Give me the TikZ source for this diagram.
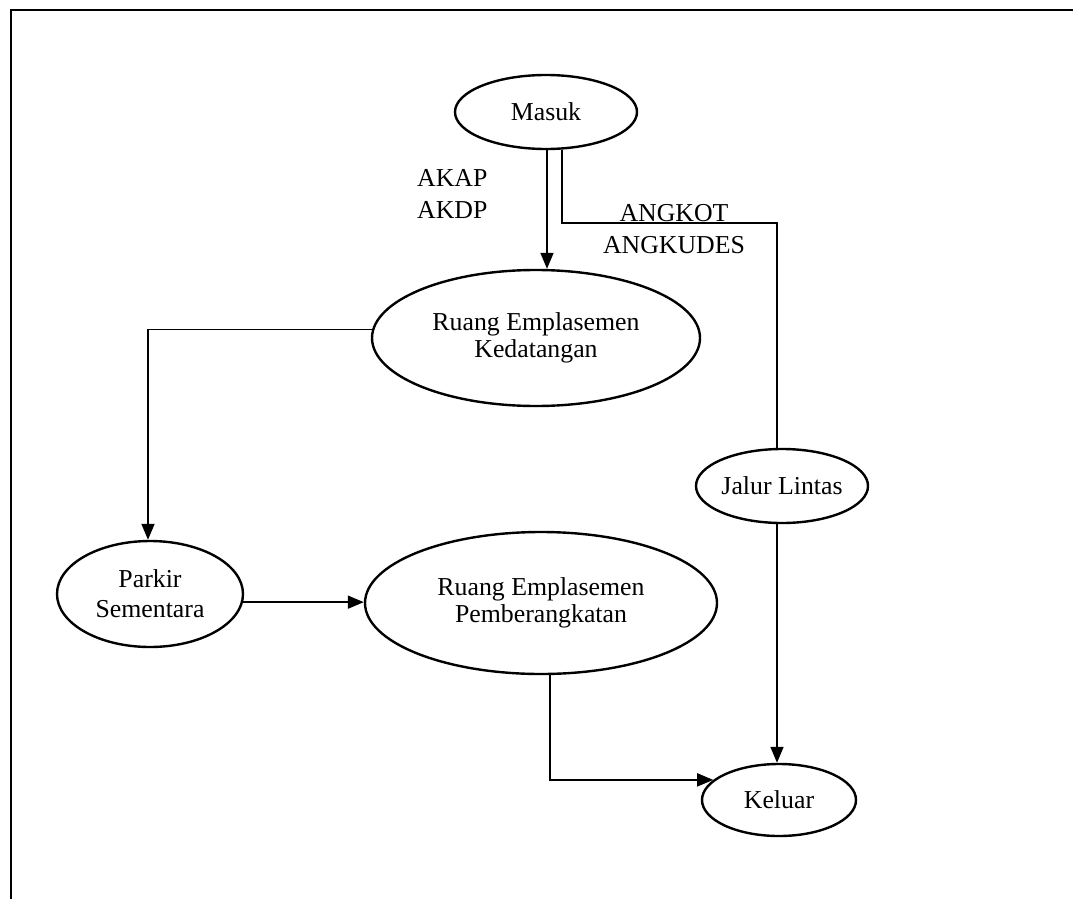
\documentclass[tikz,border=0pt]{standalone}
\usepackage{fontspec}
\setmainfont{Liberation Serif}
\usetikzlibrary{shapes.geometric,arrows.meta}

\tikzset{
  place/.style={ellipse, draw, line width=2.4pt, inner sep=0pt, align=center,
    font=\fontsize{25.8}{27}\selectfont},
  flow/.style={line width=1.7pt},
  arr/.style={flow, -{Triangle[length=16pt,width=13pt]}},
  lbl/.style={inner sep=0pt, font=\fontsize{25.8}{32}\selectfont}
}

\begin{document}
\begin{tikzpicture}[x=1pt, y=-1pt]
  \useasboundingbox (0,0) rectangle (1073,899);

  % frame (left and top edges)
  \draw[line width=2.2pt] (11,899) -- (11,10) -- (1073,10);

  % places
  \node[place, minimum width=182pt, minimum height=74pt]  (masuk)  at (546,112) {Masuk};
  \node[place, minimum width=328pt, minimum height=136pt] (datang) at (536,338) {Ruang Emplasemen\\Kedatangan};
  \node[place, minimum width=186pt, minimum height=106pt,
        font=\fontsize{25.8}{30}\selectfont] (parkir) at (150,594) {Parkir\\Sementara};
  \node[place, minimum width=352pt, minimum height=142pt] (berang) at (541,603) {Ruang Emplasemen\\Pemberangkatan};
  \node[place, minimum width=172pt, minimum height=74pt]  (jalur)  at (782,486) {Jalur Lintas};
  \node[place, minimum width=154pt, minimum height=72pt]  (keluar) at (779,800) {Keluar};

  % vehicle labels
  \node[lbl, align=left, anchor=west] (bus) at (417,194) {AKAP\\AKDP};
  \node[lbl, align=center] (kota) at (674,229) {ANGKOT\\ANGKUDES};

  % bend of the through route
  \coordinate (bend) at (777,223);

  % connectors
  \draw[arr] ([xshift=1pt]masuk.south) -- ([xshift=1pt]masuk.south |- datang.north);
  \draw[flow] ([xshift=16pt]masuk.south) |- (bend) -- (bend |- jalur.north);
  \draw[arr] (datang.177) -| ([xshift=-2pt]parkir.north);
  \draw[arr] (parkir.355) -- (parkir.355 -| berang.west);
  \draw[arr] ([xshift=9pt]berang.south) |- (keluar.163);
  \draw[arr] ([xshift=-5pt]jalur.south) -- ([xshift=-5pt]jalur.south |- keluar.north);
\end{tikzpicture}
\end{document}
